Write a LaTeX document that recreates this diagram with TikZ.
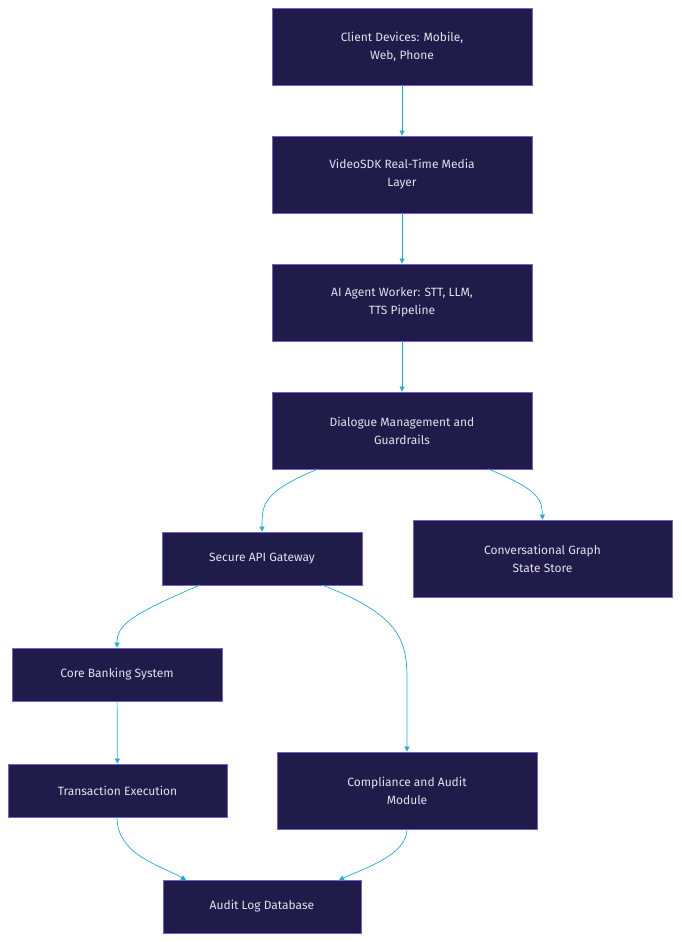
\documentclass[tikz,border=0pt]{standalone}
\usepackage{fontspec}
\setmainfont{Fira Sans}
\usetikzlibrary{arrows.meta}
\definecolor{boxfill}{HTML}{201C4A}
\definecolor{boxline}{HTML}{7B5CD6}
\definecolor{txt}{HTML}{E2E0EC}
\definecolor{arr}{HTML}{1AB0D8}
\begin{document}
\begin{tikzpicture}[x=1pt,y=-1pt,
  box/.style={draw=boxline,fill=boxfill,text=txt,line width=0.8pt,align=center,inner sep=0pt,font=\fontsize{12}{18}\selectfont},
  ar/.style={draw=arr,line width=0.7pt,-{Triangle[length=5pt,width=5pt]}}]
\useasboundingbox (0,0) rectangle (681,942);
\node[box,minimum width=260,minimum height=77] (a) at (402,46.5) {Client Devices: Mobile,\\Web, Phone};
\node[box,minimum width=260,minimum height=77] (b) at (402,174.5) {VideoSDK Real-Time Media\\Layer};
\node[box,minimum width=260,minimum height=77] (c) at (402,302.5) {AI Agent Worker: STT, LLM,\\TTS Pipeline};
\node[box,minimum width=260,minimum height=77] (d) at (402,430.5) {Dialogue Management and\\Guardrails};
\node[box,minimum width=200,minimum height=53] (e) at (262,558.5) {Secure API Gateway};
\node[box,minimum width=259,minimum height=77] (f) at (542.5,558.5) {Conversational Graph\\State Store};
\node[box,minimum width=210,minimum height=53] (g) at (117,674.5) {Core Banking System};
\node[box,minimum width=219,minimum height=53] (h) at (117.5,790.5) {Transaction Execution};
\node[box,minimum width=260,minimum height=77] (i) at (407,790.5) {Compliance and Audit\\Module};
\node[box,minimum width=198,minimum height=53] (j) at (262,906.5) {Audit Log Database};
\coordinate (d1) at (318,469); \coordinate (d2) at (488,469);
\coordinate (e1) at (200,585); \coordinate (e2) at (322,585);
\coordinate (h1) at (117,817); \coordinate (i1) at (407,829);
\coordinate (j1) at (186,880); \coordinate (j2) at (339,880);
\draw[ar] (a) -- (b);
\draw[ar] (b) -- (c);
\draw[ar] (c) -- (d);
\draw[ar] (d1) .. controls (262,492) and (262,505) .. (e.north);
\draw[ar] (d2) .. controls (540,490) and (542,500) .. (f.north);
\draw[ar] (e1) .. controls (130,615) and (117,625) .. (g.north);
\draw[ar] (e2) .. controls (400,615) and (407,640) .. (407,680) -- (i.north);
\draw[ar] (g) -- (h);
\draw[ar] (h1) .. controls (117,855) and (160,865) .. (j1);
\draw[ar] (i1) .. controls (407,855) and (365,868) .. (j2);
\end{tikzpicture}
\end{document}
